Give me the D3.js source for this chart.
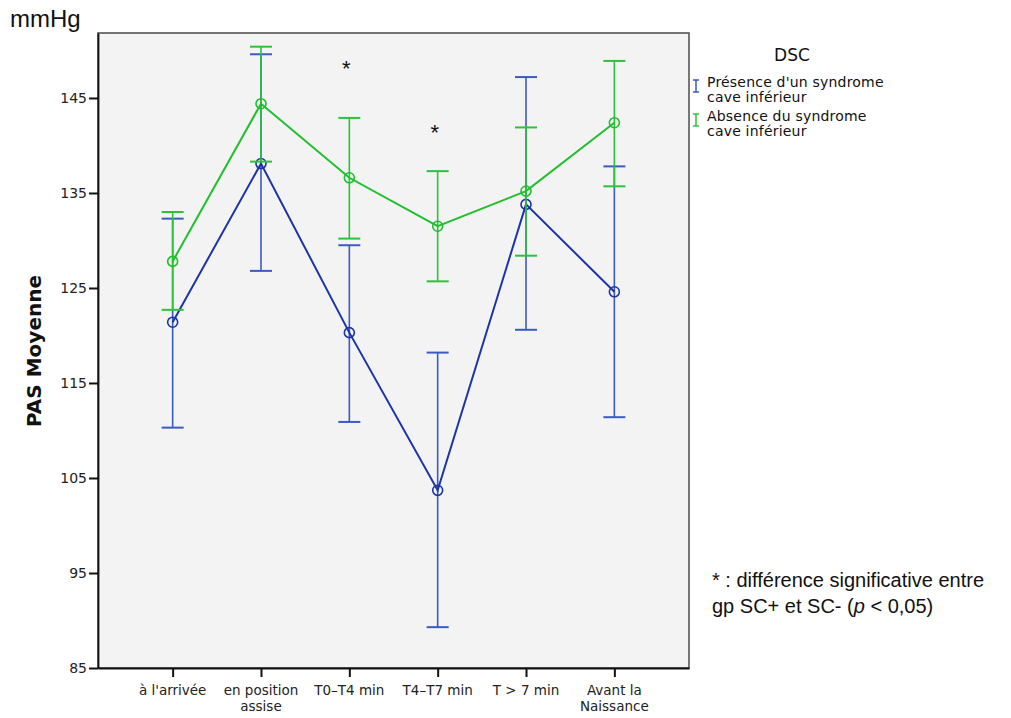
<!DOCTYPE html>
<html>
<head>
<meta charset="utf-8">
<script src="https://cdn.jsdelivr.net/npm/d3@7"></script>
<style>
  html, body { margin: 0; padding: 0; background: #ffffff; }
  svg { display: block; }
</style>
</head>
<body>
<svg id="chart" width="1011" height="718"></svg>
<script>
// Time points of the measurement
const categories = [["à l'arrivée"], ["en position", "assise"], ["T0–T4 min"], ["T4–T7 min"], ["T > 7 min"], ["Avant la", "Naissance"]];
const categoryKeys = ["arrivee", "assise", "t0t4", "t4t7", "t7", "avant"];

// Mean systolic pressure (mmHg) and 95% CI per group
const presenceMean  = [121.4, 138.1, 120.3, 103.7, 133.8, 124.6];
const presenceLow   = [110.3, 126.8, 110.9, 89.3, 120.6, 111.4];
const presenceHigh  = [132.3, 149.6, 129.5, 118.2, 147.2, 137.8];

const absenceMean   = [127.8, 144.4, 136.6, 131.5, 135.2, 142.4];
const absenceLow    = [122.7, 138.3, 130.2, 125.7, 128.4, 135.7];
const absenceHigh   = [133.0, 150.4, 142.9, 137.3, 141.9, 148.9];

const yTicks = [85, 95, 105, 115, 125, 135, 145];
const seriesNames = [["Présence d'un syndrome", "cave inférieur"], ["Absence du syndrome", "cave inférieur"]];
const significant = [{ key: "t0t4", y: 148.3 }, { key: "t4t7", y: 141.5 }];

const svg = d3.select("#chart");
const plot = { left: 98, right: 689, top: 33, bottom: 668 };

const x = d3.scalePoint().domain(categoryKeys).range([plot.left, plot.right]).padding(0.845);
const y = d3.scaleLinear().domain([85, 151.84]).range([plot.bottom, plot.top]);

// Plot background and frame
svg.append("rect")
  .attr("x", plot.left).attr("y", plot.top)
  .attr("width", plot.right - plot.left).attr("height", plot.bottom - plot.top)
  .attr("fill", "#f3f3f3").attr("stroke", "#555").attr("stroke-width", 1.6);

// Axes
const yAxis = svg.append("g")
  .attr("transform", `translate(${plot.left},0)`)
  .call(d3.axisLeft(y).tickValues(yTicks).tickSize(9).tickSizeOuter(0));
yAxis.select(".domain").attr("stroke", "#111").attr("stroke-width", 1.8);
yAxis.selectAll(".tick line").attr("stroke", "#111").attr("stroke-width", 2);
yAxis.selectAll(".tick text")
  .attr("x", -11)
  .style("font-family", "'DejaVu Sans', sans-serif").style("font-size", "14px").attr("fill", "#222");

const xAxis = svg.append("g")
  .attr("transform", `translate(0,${plot.bottom})`)
  .call(d3.axisBottom(x).tickSize(9).tickSizeOuter(0).tickFormat(() => ""));
xAxis.select(".domain").attr("stroke", "#111").attr("stroke-width", 1.8);
xAxis.selectAll(".tick line").attr("stroke", "#111").attr("stroke-width", 2);

categoryKeys.forEach((k, i) => {
  const t = svg.append("text")
    .attr("x", x(k)).attr("y", plot.bottom + 27)
    .attr("text-anchor", "middle")
    .style("font-family", "'DejaVu Sans', sans-serif")
    .style("font-size", "13.5px").attr("fill", "#222");
  categories[i].forEach((line, j) => {
    t.append("tspan").attr("x", x(k)).attr("dy", j === 0 ? 0 : 16).text(line);
  });
});

// Axis titles
svg.append("text")
  .attr("transform", "translate(41,351) rotate(-90)")
  .attr("text-anchor", "middle")
  .style("font-family", "'DejaVu Sans', sans-serif").style("font-size", "20px").style("font-weight", "bold")
  .attr("fill", "#111")
  .text("PAS Moyenne");

svg.append("text")
  .attr("x", 10).attr("y", 27)
  .style("font-family", "'Liberation Sans', Arial, sans-serif").style("font-size", "24px")
  .attr("fill", "#111").text("mmHg");

// Series
const series = [
  { mean: presenceMean, low: presenceLow, high: presenceHigh, line: "#1c34a8", bar: "#3a5bc4" },
  { mean: absenceMean,  low: absenceLow,  high: absenceHigh,  line: "#1fbf2e", bar: "#2cc23a" }
];

const capHalf = 11;
series.forEach(s => {
  const pts = categoryKeys.map((k, i) => ({ k, m: s.mean[i], lo: s.low[i], hi: s.high[i] }));
  const g = svg.append("g");
  // Error bars
  g.selectAll("line.ci").data(pts).enter().append("line")
    .attr("x1", d => x(d.k)).attr("x2", d => x(d.k))
    .attr("y1", d => y(d.lo)).attr("y2", d => y(d.hi))
    .attr("stroke", s.bar).attr("stroke-width", 1.6);
  g.selectAll("line.capHi").data(pts).enter().append("line")
    .attr("x1", d => x(d.k) - capHalf).attr("x2", d => x(d.k) + capHalf)
    .attr("y1", d => y(d.hi)).attr("y2", d => y(d.hi))
    .attr("stroke", s.bar).attr("stroke-width", 2);
  g.selectAll("line.capLo").data(pts).enter().append("line")
    .attr("x1", d => x(d.k) - capHalf).attr("x2", d => x(d.k) + capHalf)
    .attr("y1", d => y(d.lo)).attr("y2", d => y(d.lo))
    .attr("stroke", s.bar).attr("stroke-width", 2);
  // Mean line
  g.append("path")
    .datum(pts)
    .attr("d", d3.line().x(d => x(d.k)).y(d => y(d.m)))
    .attr("fill", "none").attr("stroke", s.line).attr("stroke-width", 2);
  // Mean markers
  g.selectAll("circle").data(pts).enter().append("circle")
    .attr("cx", d => x(d.k)).attr("cy", d => y(d.m)).attr("r", 5)
    .attr("fill", "none").attr("stroke", s.line).attr("stroke-width", 1.6);
});

// Significance marks
svg.selectAll("text.sig").data(significant).enter().append("text")
  .attr("x", d => x(d.key) - 3).attr("y", d => y(d.y) + 9)
  .attr("text-anchor", "middle")
  .style("font-family", "'Liberation Sans', Arial, sans-serif").style("font-size", "22px")
  .attr("fill", "#111").text("*");

// Legend
svg.append("text")
  .attr("x", 792).attr("y", 61).attr("text-anchor", "middle")
  .style("font-family", "'DejaVu Sans', sans-serif").style("font-size", "17px")
  .attr("fill", "#111").text("DSC");

series.forEach((s, i) => {
  const y0 = 86 + i * 34;
  const lg = svg.append("g");
  lg.append("line").attr("x1", 696).attr("x2", 696).attr("y1", y0 - 6).attr("y2", y0 + 6)
    .attr("stroke", s.bar).attr("stroke-width", 1.5);
  lg.append("line").attr("x1", 693).attr("x2", 699).attr("y1", y0 - 6).attr("y2", y0 - 6)
    .attr("stroke", s.bar).attr("stroke-width", 1.5);
  lg.append("line").attr("x1", 693).attr("x2", 699).attr("y1", y0 + 6).attr("y2", y0 + 6)
    .attr("stroke", s.bar).attr("stroke-width", 1.5);
  const t = lg.append("text").attr("x", 707).attr("y", y0 + 1)
    .style("font-family", "'DejaVu Sans', sans-serif").style("font-size", "14px")
    .style("letter-spacing", "0.2px")
    .attr("fill", "#111");
  seriesNames[i].forEach((line, j) => {
    t.append("tspan").attr("x", 707).attr("dy", j === 0 ? 0 : 15).text(line);
  });
});

// Footnote
const note = svg.append("text").attr("x", 712).attr("y", 587)
  .style("font-family", "'Liberation Sans', Arial, sans-serif").style("font-size", "20px").attr("fill", "#111");
note.append("tspan").attr("x", 712).text("* : différence significative entre");
const n2 = note.append("tspan").attr("x", 712).attr("dy", 26);
n2.append("tspan").text("gp SC+ et SC- (");
n2.append("tspan").style("font-style", "italic").text("p");
n2.append("tspan").text(" < 0,05)");
</script>
</body>
</html>
